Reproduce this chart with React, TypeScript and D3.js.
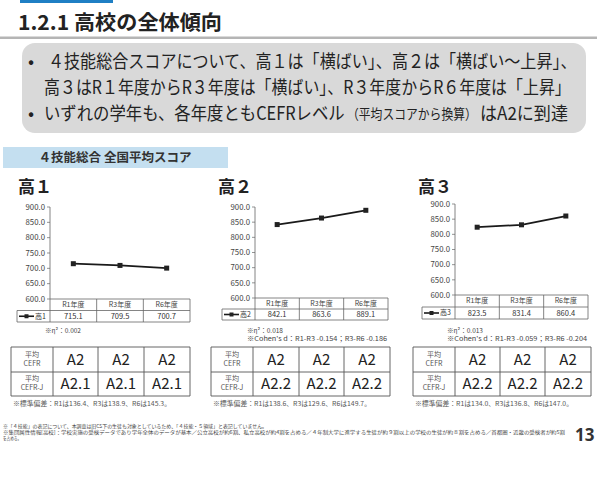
import React, { useLayoutEffect, useRef, useState } from "react";
import * as d3 from "d3";

const categories = ["R1年度", "R3年度", "R6年度"];
const grade1 = [715.1, 709.5, 700.7];
const grade2 = [842.1, 863.6, 889.1];
const grade3 = [823.5, 831.4, 860.4];
const yTicks = [600, 650, 700, 750, 800, 850, 900];
const seriesNames = ["高1", "高2", "高3"];
const gradeTitles = ["高１", "高２", "高３"];
const cefr1 = ["A2", "A2", "A2"];
const cefr2 = ["A2", "A2", "A2"];
const cefr3 = ["A2", "A2", "A2"];
const cefrJ1 = ["A2.1", "A2.1", "A2.1"];
const cefrJ2 = ["A2.2", "A2.2", "A2.2"];
const cefrJ3 = ["A2.2", "A2.2", "A2.2"];
const notes1 = ["※η²：0.002"];
const notes2 = ["※η²：0.018", "※Cohen's d：R1-R3 -0.154；R3-R6 -0.186"];
const notes3 = ["※η²：0.013", "※Cohen's d：R1-R3 -0.059；R3-R6 -0.204"];
const noteLengths = [36, 140];
const sd1 = "※標準偏差：R1は136.4、R3は138.9、R6は145.3。";
const sd2 = "※標準偏差：R1は138.6、R3は129.6、R6は149.7。";
const sd3 = "※標準偏差：R1は134.0、R3は136.8、R6は147.0。";
const bulletLines = [
  "４技能総合スコアについて、高１は「横ばい」、高２は「横ばい～上昇」、",
  "高３はR１年度からR３年度は「横ばい」、R３年度からR６年度は「上昇」",
  "いずれの学年も、各年度ともCEFRレベル",
  "（平均スコアから換算）",
  "はA2に到達",
];
const footer = [
  "※「４技能」の表記について、本調査は旧CS下の生徒も対象としているため、「４技能・５領域」と表記していません。",
  "※集団属性情報[高校]：学校実施の受検データであり学年全体のデータが基本／公立高校が約6割、私立高校が約4割を占める／４年制大学に進学する生徒が約９割以上の学校の生徒が約８割を占める／首都圏・近畿の受検者が約5割",
  "を占める。",
];
const footerLengths = [264, 562, 18];

const FONT = "'Noto Sans CJK JP', 'Noto Sans', sans-serif";

type FitProps = { x: number; y: number; width: number; fontSize: number; children: string; fill?: string };

function FitText({ x, y, width, fontSize, children, fill = "#222" }: FitProps) {
  const ref = useRef<SVGTextElement>(null);
  const [k, setK] = useState(1);
  useLayoutEffect(() => {
    if (ref.current) {
      const w = ref.current.getComputedTextLength();
      if (w > 0) setK(width / w);
    }
  }, [children, width, fontSize]);
  return (
    <text ref={ref} transform={`translate(${x},${y}) scale(${k},1)`} fontSize={fontSize} fill={fill} fontFamily={FONT}>
      {children}
    </text>
  );
}

type ChartProps = {
  values: number[];
  name: string;
  legendLeft: number;
  axisX: number;
  right: number;
  yTop: number;
  yBottom: number;
  rowH: number;
  notes: string[];
  notesX: number;
  notesY: number;
};

function LineChart(p: ChartProps) {
  const x = d3.scaleBand<string>().domain(categories).range([p.axisX, p.right]).padding(0);
  const y = d3.scaleLinear().domain([600, 900]).range([p.yBottom, p.yTop]);
  const cx = (c: string) => (x(c) as number) + x.bandwidth() / 2;
  const line = d3
    .line<number>()
    .x((_, i) => cx(categories[i]))
    .y((d) => y(d));
  const r1 = p.yBottom;
  const r2 = p.yBottom + p.rowH;
  const r3 = p.yBottom + p.rowH * 2;
  const stroke = "#666";
  return (
    <g fontFamily={FONT}>
      {yTicks.map((t) => (
        <g key={t}>
          <line x1={p.axisX - 3} x2={p.axisX} y1={y(t)} y2={y(t)} stroke={stroke} strokeWidth={0.7} />
          <text x={p.axisX - 5} y={y(t)} dy="0.35em" textAnchor="end" fontSize={7.8} fill="#444">
            {t.toFixed(1)}
          </text>
        </g>
      ))}
      <line x1={p.axisX} x2={p.axisX} y1={p.yTop} y2={r3} stroke={stroke} strokeWidth={0.8} />
      <line x1={p.axisX} x2={p.right} y1={r1} y2={r1} stroke={stroke} strokeWidth={0.8} />
      <line x1={p.legendLeft} x2={p.right} y1={r2} y2={r2} stroke={stroke} strokeWidth={0.8} />
      <line x1={p.legendLeft} x2={p.right} y1={r3} y2={r3} stroke={stroke} strokeWidth={0.8} />
      <line x1={p.legendLeft} x2={p.legendLeft} y1={r2} y2={r3} stroke={stroke} strokeWidth={0.8} />
      {categories.map((c) => (
        <line key={c} x1={(x(c) as number) + x.bandwidth()} x2={(x(c) as number) + x.bandwidth()} y1={r1} y2={r3} stroke={stroke} strokeWidth={0.8} />
      ))}
      {categories.map((c, i) => (
        <g key={c}>
          <text x={cx(c)} y={(r1 + r2) / 2} dy="0.35em" textAnchor="middle" fontSize={7} fill="#444">
            {c}
          </text>
          <text x={cx(c)} y={(r2 + r3) / 2} dy="0.35em" textAnchor="middle" fontSize={7.5} fill="#333">
            {p.values[i].toFixed(1)}
          </text>
        </g>
      ))}
      <line x1={p.legendLeft + 2} x2={p.legendLeft + 17} y1={(r2 + r3) / 2} y2={(r2 + r3) / 2} stroke="#1a1a1a" strokeWidth={1.6} />
      <rect x={p.legendLeft + 7.5} y={(r2 + r3) / 2 - 2} width={4} height={4} fill="#222" />
      <text x={p.legendLeft + 18} y={(r2 + r3) / 2} dy="0.35em" fontSize={7} fill="#333">
        {p.name}
      </text>
      <path d={line(p.values) || ""} fill="none" stroke="#1a1a1a" strokeWidth={1.8} />
      {p.values.map((v, i) => (
        <rect key={i} x={cx(categories[i]) - 2.5} y={y(v) - 2.5} width={5} height={5} fill="#222" />
      ))}
      {p.notes.map((n, i) => (
        <text key={n} x={p.notesX} y={p.notesY + i * 8} fontSize={6.4} fill="#444" textLength={noteLengths[i]} lengthAdjust="spacingAndGlyphs">
          {n}
        </text>
      ))}
    </g>
  );
}

type TableProps = { xs: number[]; cefr: string[]; cefrJ: string[]; sd: string };

function CefrTable({ xs, cefr, cefrJ, sd }: TableProps) {
  const ys = [347, 372, 396];
  const stroke = "#555";
  return (
    <g fontFamily={FONT}>
      {ys.map((yy) => (
        <line key={yy} x1={xs[0]} x2={xs[4]} y1={yy} y2={yy} stroke={stroke} strokeWidth={0.9} />
      ))}
      {xs.map((xx) => (
        <line key={xx} x1={xx} x2={xx} y1={ys[0]} y2={ys[2]} stroke={stroke} strokeWidth={0.9} />
      ))}
      <text x={(xs[0] + xs[1]) / 2} y={357} textAnchor="middle" fontSize={7} fill="#555">平均</text>
      <text x={(xs[0] + xs[1]) / 2} y={366} textAnchor="middle" fontSize={7} fill="#555">CEFR</text>
      <text x={(xs[0] + xs[1]) / 2} y={381} textAnchor="middle" fontSize={7} fill="#555">平均</text>
      <text x={(xs[0] + xs[1]) / 2} y={390} textAnchor="middle" fontSize={7} fill="#555">CEFR-J</text>
      {cefr.map((c, i) => (
        <text key={"a" + i} x={(xs[i + 1] + xs[i + 2]) / 2} y={(ys[0] + ys[1]) / 2} dy="0.36em" textAnchor="middle" fontSize={15} fill="#222">
          {c}
        </text>
      ))}
      {cefrJ.map((c, i) => (
        <text key={"b" + i} x={(xs[i + 1] + xs[i + 2]) / 2} y={(ys[1] + ys[2]) / 2} dy="0.36em" textAnchor="middle" fontSize={15} fill="#222">
          {c}
        </text>
      ))}
      <text x={xs[0] + 2} y={405.5} fontSize={6.3} fill="#555" textLength={158} lengthAdjust="spacingAndGlyphs">{sd}</text>
    </g>
  );
}

export default function App() {
  return (
    <svg
      width={597}
      height={480}
      viewBox="0 0 597 480"
      style={{ position: "absolute", left: 0, top: 0, display: "block", background: "#fff" }}
    >
      <rect x={0} y={0} width={597} height={480} fill="#fff" />
      <rect x={20} y={0} width={93} height={3} fill="#1f7fc4" />
      <text x={18} y={30} fontFamily={FONT} fontWeight={700} fontSize={20.5} fill="#222" textLength={204} lengthAdjust="spacingAndGlyphs">
        1.2.1 高校の全体傾向
      </text>
      <rect x={0} y={36.5} width={597} height={2.5} fill="#b5b5b5" />
      <rect x={22} y={43} width={564} height={90} rx={13} fill="#d9d9d9" />
      <g fontFamily={FONT} fontSize={18} fill="#222">
        <text x={28} y={68}>•</text>
        <text x={28} y={120}>•</text>
      </g>
      <FitText x={48} y={68} width={529} fontSize={18}>{bulletLines[0]}</FitText>
      <FitText x={44} y={94} width={527} fontSize={18}>{bulletLines[1]}</FitText>
      <FitText x={44} y={120} width={301} fontSize={18}>{bulletLines[2]}</FitText>
      <FitText x={347} y={119} width={130} fontSize={14}>{bulletLines[3]}</FitText>
      <FitText x={480} y={120} width={88} fontSize={18}>{bulletLines[4]}</FitText>
      <rect x={3} y={147} width={225} height={21} fill="#c4dff0" />
      <text x={115} y={162} textAnchor="middle" fontFamily={FONT} fontWeight={700} fontSize={12.5} fill="#333">
        ４技能総合 全国平均スコア
      </text>
      {[18, 218, 418].map((xx, i) => (
        <text key={xx} x={xx} y={193} fontFamily={FONT} fontWeight={700} fontSize={17} fill="#222">
          {gradeTitles[i]}
        </text>
      ))}
      <LineChart values={grade1} name={seriesNames[0]} legendLeft={17} axisX={50} right={190} yTop={207} yBottom={299} rowH={11.5} notes={notes1} notesX={45} notesY={333} />
      <LineChart values={grade2} name={seriesNames[1]} legendLeft={222} axisX={255} right={388} yTop={207} yBottom={298} rowH={11} notes={notes2} notesX={247} notesY={332.5} />
      <LineChart values={grade3} name={seriesNames[2]} legendLeft={422} axisX={455} right={588} yTop={204} yBottom={295} rowH={12} notes={notes3} notesX={447} notesY={332.5} />
      <CefrTable xs={[11, 53, 98, 144, 190]} cefr={cefr1} cefrJ={cefrJ1} sd={sd1} />
      <CefrTable xs={[211, 253, 299, 344, 390]} cefr={cefr2} cefrJ={cefrJ2} sd={sd2} />
      <CefrTable xs={[413, 455, 500, 545, 591]} cefr={cefr3} cefrJ={cefrJ3} sd={sd3} />
      <g fontFamily={FONT} fontSize={5} fill="#444">
        {footer.map((f, i) => (
          <text key={i} x={3} y={428 + i * 6} textLength={footerLengths[i]} lengthAdjust="spacingAndGlyphs">{f}</text>
        ))}
      </g>
      <text x={575} y={441} fontFamily="'Open Sans', sans-serif" fontWeight={700} fontSize={17} fill="#333">
        13
      </text>
    </svg>
  );
}
